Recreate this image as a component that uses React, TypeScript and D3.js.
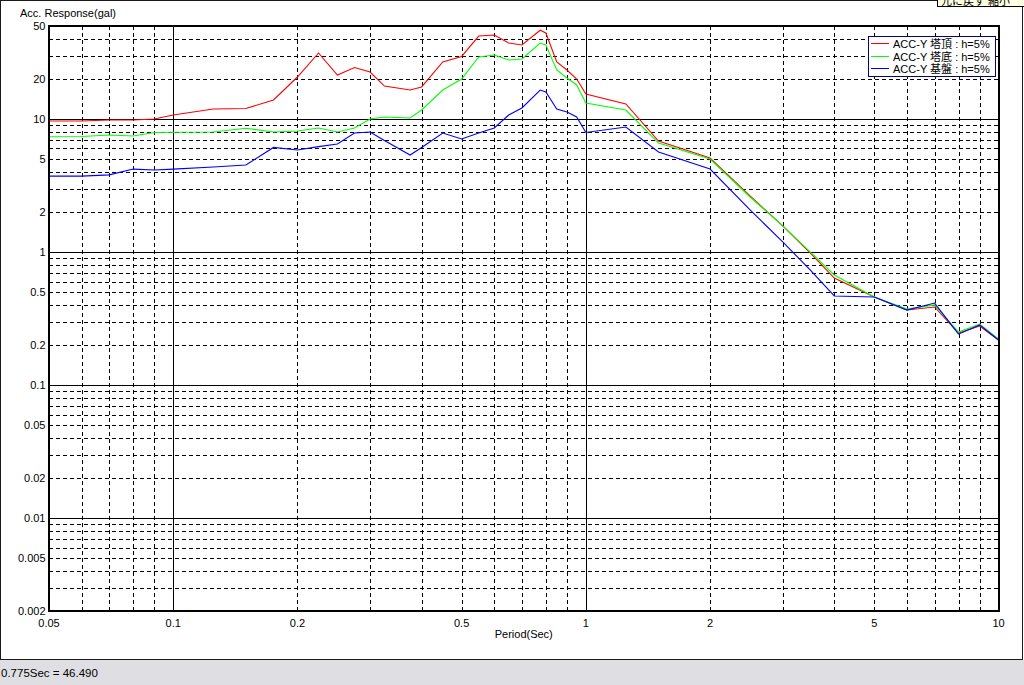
import React from "react";
import * as d3 from "d3";

// ---- Data ----
const periods = [
  0.05, 0.06, 0.07, 0.08, 0.09, 0.1, 0.125, 0.15, 0.175, 0.2, 0.225, 0.25, 0.275, 0.3,
  0.325, 0.375, 0.4, 0.45, 0.5, 0.55, 0.6, 0.65, 0.7, 0.775, 0.8, 0.85, 0.9, 0.95, 1.0,
  1.25, 1.5, 2, 2.5, 3, 3.5, 4, 5, 6, 7, 8, 9, 10,
];

const accTop = [
  9.66, 9.66, 9.82, 9.82, 9.99, 10.71, 11.88, 11.99, 13.89, 20.68, 31.34, 21.41, 24.38, 22.55,
  17.69, 16.51, 17.4, 26.81, 29.51, 42.02, 42.79, 37.24, 36.02, 46.49, 44.31, 26.81, 23.35, 19.97, 15.4,
  12.96, 6.83, 5.09, 2.64, 1.57, 0.982, 0.637, 0.459, 0.366, 0.386, 0.246, 0.278, 0.218,
];

const accBottom = [
  7.36, 7.39, 7.58, 7.45, 7.92, 7.94, 7.98, 8.51, 7.98, 8.12, 8.56, 7.98, 8.56, 9.99,
  10.35, 10.17, 11.68, 16.51, 19.97, 29.23, 30.27, 27.77, 28.25, 37.24, 36.02, 23.35, 20.33, 18.01, 13.19,
  11.68, 6.59, 5.0, 2.59, 1.57, 0.999, 0.672, 0.459, 0.372, 0.4, 0.25, 0.287, 0.222,
];

const accBase = [
  3.72, 3.72, 3.8, 4.2, 4.13, 4.2, 4.35, 4.51, 6.11, 5.84, 6.2, 6.48, 7.84, 7.98,
  6.88, 5.36, 6.11, 7.84, 7.07, 7.84, 8.56, 10.71, 12.1, 16.51, 15.95, 11.88, 11.28, 10.35, 7.92,
  8.7, 5.65, 4.2, 2.07, 1.19, 0.732, 0.467, 0.459, 0.366, 0.413, 0.241, 0.283, 0.218,
];

const seriesNames = ["ACC-Y 塔頂 : h=5%", "ACC-Y 塔底 : h=5%", "ACC-Y 基盤 : h=5%"];
const seriesColors = ["#ff0000", "#00ff00", "#0000ff"];

const yTickValues = [50, 20, 10, 5, 2, 1, 0.5, 0.2, 0.1, 0.05, 0.02, 0.01, 0.005, 0.002];
const yTickLabels = ["50", "20", "10", "5", "2", "1", "0.5", "0.2", "0.1", "0.05", "0.02", "0.01", "0.005", "0.002"];
const xTickValues = [0.05, 0.1, 0.2, 0.5, 1, 2, 5, 10];
const xTickLabels = ["0.05", "0.1", "0.2", "0.5", "1", "2", "5", "10"];
const decadeValues = [0.01, 0.1, 1, 10];

const yTitle = "Acc. Response(gal)";
const xTitle = "Period(Sec)";
const statusText = "0.775Sec = 46.490";
const tooltipText = "元に戻す  縮小";

const FONT = "'Liberation Sans', Arial, 'Noto Sans CJK JP', sans-serif";

export default function App() {
  const L = 49, R = 998.5, T = 26, B = 611;
  const x = d3.scaleLog().domain([0.05, 10]).range([L, R]);
  const y = d3.scaleLog().domain([0.002, 50]).range([B, T]);

  const px = (v: number) => Math.round(x(v)) + 0.5;
  const py = (v: number) => Math.round(y(v)) + 0.5;

  const xGrid = x.ticks().filter((v) => v > 0.0500001 && v < 9.99999);
  const yGrid = y.ticks().filter((v) => v > 0.0020001 && v < 49.9999);
  const isDecade = (v: number) => decadeValues.some((d) => Math.abs(v - d) / d < 1e-6);

  const series = [accTop, accBottom, accBase];
  const line = d3
    .line<number>()
    .x((_, i) => x(periods[i]))
    .y((d) => y(d));

  return (
    <svg
      width={1024}
      height={685}
      style={{ position: "absolute", left: 0, top: 0, background: "#ffffff" }}
      fontFamily={FONT}
    >
      <rect x={0} y={0} width={1024} height={685} fill="#ffffff" />
      {/* status bar */}
      <rect x={0} y={660} width={1024} height={25} fill="#dfdfe3" />
      <text x={1} y={677} fontSize={11.5} fill="#000">{statusText}</text>
      {/* window frame */}
      <rect x={0.5} y={0.5} width={1022} height={659} fill="none" stroke="#1a1a1a" strokeWidth={1} />

      {/* tooltip fragment top-right */}
      <g>
        <rect x={937.5} y={-2} width={90} height={8.5} fill="#ffffe1" stroke="#000" strokeWidth={1} />
        <text x={941} y={4.5} fontSize={11} fill="#000">{tooltipText}</text>
      </g>

      {/* grid */}
      <g shapeRendering="crispEdges">
        {xGrid.map((v, i) => (
          <line
            key={"xg" + i}
            x1={px(v)}
            x2={px(v)}
            y1={T}
            y2={B}
            stroke="#000"
            strokeWidth={1}
            strokeDasharray={isDecade(v) ? undefined : "4,3"}
          />
        ))}
        {yGrid.map((v, i) => (
          <line
            key={"yg" + i}
            x1={L}
            x2={R}
            y1={py(v)}
            y2={py(v)}
            stroke="#000"
            strokeWidth={1}
            strokeDasharray={isDecade(v) ? undefined : "4,3"}
          />
        ))}
      </g>

      {/* series */}
      <g fill="none" strokeWidth={1.1}>
        {series.map((s, i) => (
          <path key={"s" + i} d={line(s) || ""} stroke={seriesColors[i]} />
        ))}
      </g>

      {/* frame */}
      <rect x={L} y={T} width={R - L} height={B - T} fill="none" stroke="#000" strokeWidth={2} shapeRendering="crispEdges" />

      {/* y ticks */}
      <g fontSize={11} fill="#000" textAnchor="end">
        {yTickValues.map((v, i) => (
          <text key={"yt" + i} x={45.5} y={y(v) + 4}>{yTickLabels[i]}</text>
        ))}
      </g>
      {/* x ticks */}
      <g fontSize={11} fill="#000" textAnchor="middle">
        {xTickValues.map((v, i) => (
          <text key={"xt" + i} x={x(v)} y={627}>{xTickLabels[i]}</text>
        ))}
      </g>
      <text x={20} y={17} fontSize={11} fill="#000">{yTitle}</text>
      <text x={(L + R) / 2} y={638} fontSize={11} fill="#000" textAnchor="middle">{xTitle}</text>

      {/* legend */}
      <g>
        <rect x={868.5} y={36.5} width={126.5} height={39.5} fill="#ffffff" stroke="#000080" strokeWidth={1} shapeRendering="crispEdges" />
        {seriesNames.map((n, i) => {
          const ly = Math.round(43 + i * 12.5) + 0.5;
          return (
            <g key={"lg" + i}>
              <line x1={871} x2={889} y1={ly} y2={ly} stroke={seriesColors[i]} strokeWidth={1} shapeRendering="crispEdges" />
              <text x={893} y={ly + 4} fontSize={11} fill="#000">{n}</text>
            </g>
          );
        })}
      </g>
    </svg>
  );
}
